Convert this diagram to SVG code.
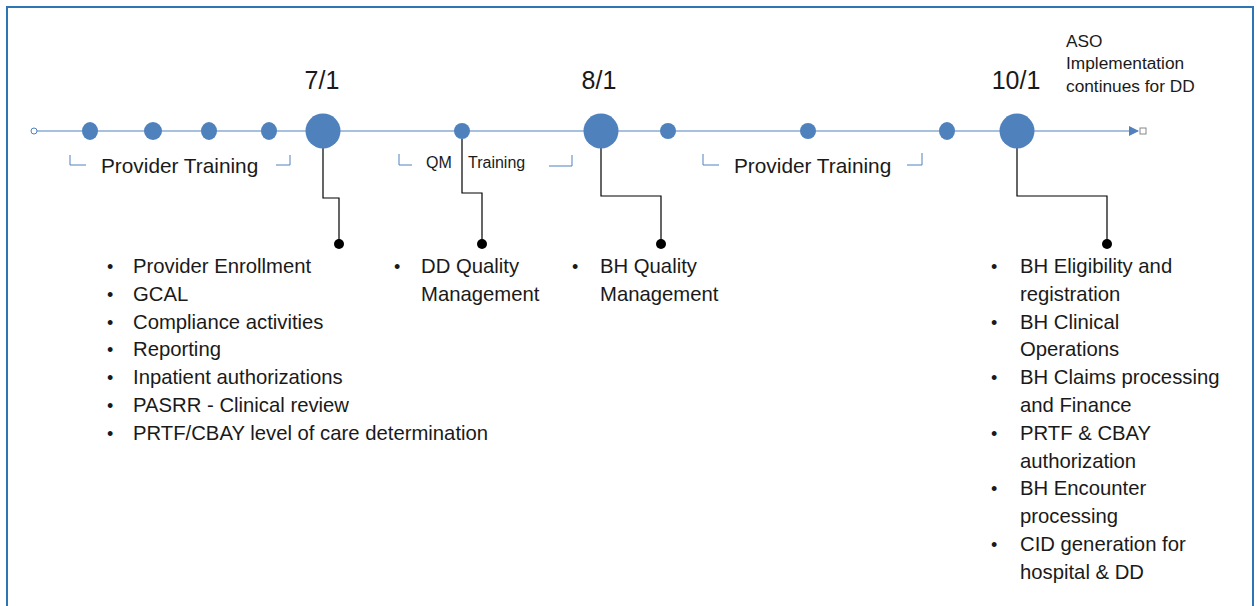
<svg xmlns="http://www.w3.org/2000/svg" width="1257" height="606" viewBox="0 0 1257 606">
<style>
text{font-family:"Liberation Sans",Arial,sans-serif;fill:#1a1a1a}
.date{font-size:25px;text-anchor:middle}
.lbl{font-size:20.8px}
.qm{font-size:16px}
.item{font-size:20.3px}
.bul{font-size:18px}
.aso{font-size:17.3px}
.dot{fill:#4f81bd}
.brk{fill:none;stroke:#4f81bd;stroke-width:1}
.con{fill:none;stroke:#000;stroke-width:1.2}
.end{fill:#000}
</style>
<defs>
<marker id="arr" markerWidth="10" markerHeight="10" refX="9" refY="5" orient="auto" markerUnits="userSpaceOnUse">
<path d="M0,0 L10,5 L0,10 Z" fill="#4f81bd"/>
</marker>
</defs>
<rect x="0" y="0" width="1257" height="606" fill="#fff"/>
<path d="M7,606 V7 H1253 V606" fill="none" stroke="#2e75b6" stroke-width="2"/>
<g id="timeline">
<line x1="37" y1="131" x2="1138" y2="131" stroke="#4f81bd" stroke-width="1.2" marker-end="url(#arr)"/>
<circle cx="34" cy="131" r="3" fill="#fff" stroke="#4f81bd" stroke-width="1"/>
<rect x="1140" y="128" width="6" height="6" fill="#fff" stroke="#888" stroke-width="1"/>
</g>
<g id="connectors">
<polyline class="con" points="323,148 323,198 339,198 339,244"/>
<polyline class="con" points="462,139 462,193 482,193 482,244"/>
<polyline class="con" points="601,148 601,196 661,196 661,244"/>
<polyline class="con" points="1017,148 1017,196 1107,196 1107,244"/>
<circle class="end" cx="339" cy="244" r="5"/>
<circle class="end" cx="482" cy="244" r="5"/>
<circle class="end" cx="661" cy="244" r="5"/>
<circle class="end" cx="1107" cy="244" r="5"/>
</g>
<g id="dots">
<ellipse class="dot" cx="90" cy="131" rx="8" ry="9"/>
<ellipse class="dot" cx="153" cy="131" rx="9" ry="9"/>
<ellipse class="dot" cx="209" cy="131" rx="8" ry="9"/>
<ellipse class="dot" cx="269" cy="131" rx="8" ry="9"/>
<ellipse class="dot" cx="462" cy="131" rx="8" ry="8"/>
<ellipse class="dot" cx="668" cy="131" rx="8" ry="8"/>
<ellipse class="dot" cx="808" cy="131" rx="8" ry="8"/>
<ellipse class="dot" cx="947" cy="131" rx="8" ry="9"/>
</g>
<g id="m71">
<circle class="dot" cx="323" cy="131" r="17.5"/>
<text class="date" x="322" y="89">7/1</text>
</g>
<g id="m81">
<circle class="dot" cx="601" cy="131" r="17.5"/>
<text class="date" x="599" y="89">8/1</text>
</g>
<g id="m101">
<circle class="dot" cx="1017" cy="131" r="17.5"/>
<text class="date" x="1016" y="89">10/1</text>
</g>
<g id="aso">
<text class="aso" x="1066" y="47">ASO</text>
<text class="aso" x="1066" y="69">Implementation</text>
<text class="aso" x="1066" y="92">continues for DD</text>
</g>
<g id="pt1">
<path class="brk" d="M70,155 V165 H86"/>
<path class="brk" d="M276,165 H290 V155"/>
<text class="lbl" x="101" y="173">Provider Training</text>
</g>
<g id="qmt">
<path class="brk" d="M399,154 V165 H412"/>
<path class="brk" d="M549,166 H572 V155"/>
<text class="qm" x="426" y="168">QM</text>
<text class="qm" x="468" y="168">Training</text>
</g>
<g id="pt2">
<path class="brk" d="M703,154 V165 H719"/>
<path class="brk" d="M907,165 H922 V153"/>
<text class="lbl" x="734" y="173">Provider Training</text>
</g>
<g id="list71">
<text class="bul" x="107" y="273">•</text><text class="item" x="133" y="273">Provider Enrollment</text>
<text class="bul" x="107" y="301">•</text><text class="item" x="133" y="301">GCAL</text>
<text class="bul" x="107" y="329">•</text><text class="item" x="133" y="329">Compliance activities</text>
<text class="bul" x="107" y="356">•</text><text class="item" x="133" y="356">Reporting</text>
<text class="bul" x="107" y="384">•</text><text class="item" x="133" y="384">Inpatient authorizations</text>
<text class="bul" x="107" y="412">•</text><text class="item" x="133" y="412">PASRR - Clinical review</text>
<text class="bul" x="107" y="440">•</text><text class="item" x="133" y="440">PRTF/CBAY level of care determination</text>
</g>
<g id="listdd">
<text class="bul" x="394" y="273">•</text><text class="item" x="421" y="273">DD Quality</text>
<text class="item" x="421" y="301">Management</text>
</g>
<g id="listbh">
<text class="bul" x="572" y="273">•</text><text class="item" x="600" y="273">BH Quality</text>
<text class="item" x="600" y="301">Management</text>
</g>
<g id="list101">
<text class="bul" x="991" y="273">•</text><text class="item" x="1020" y="273">BH Eligibility and</text>
<text class="item" x="1020" y="301">registration</text>
<text class="bul" x="991" y="329">•</text><text class="item" x="1020" y="329">BH Clinical</text>
<text class="item" x="1020" y="356">Operations</text>
<text class="bul" x="991" y="384">•</text><text class="item" x="1020" y="384">BH Claims processing</text>
<text class="item" x="1020" y="412">and Finance</text>
<text class="bul" x="991" y="440">•</text><text class="item" x="1020" y="440">PRTF &amp; CBAY</text>
<text class="item" x="1020" y="468">authorization</text>
<text class="bul" x="991" y="495">•</text><text class="item" x="1020" y="495">BH Encounter</text>
<text class="item" x="1020" y="523">processing</text>
<text class="bul" x="991" y="551">•</text><text class="item" x="1020" y="551">CID generation for</text>
<text class="item" x="1020" y="579">hospital &amp; DD</text>
</g>
</svg>
